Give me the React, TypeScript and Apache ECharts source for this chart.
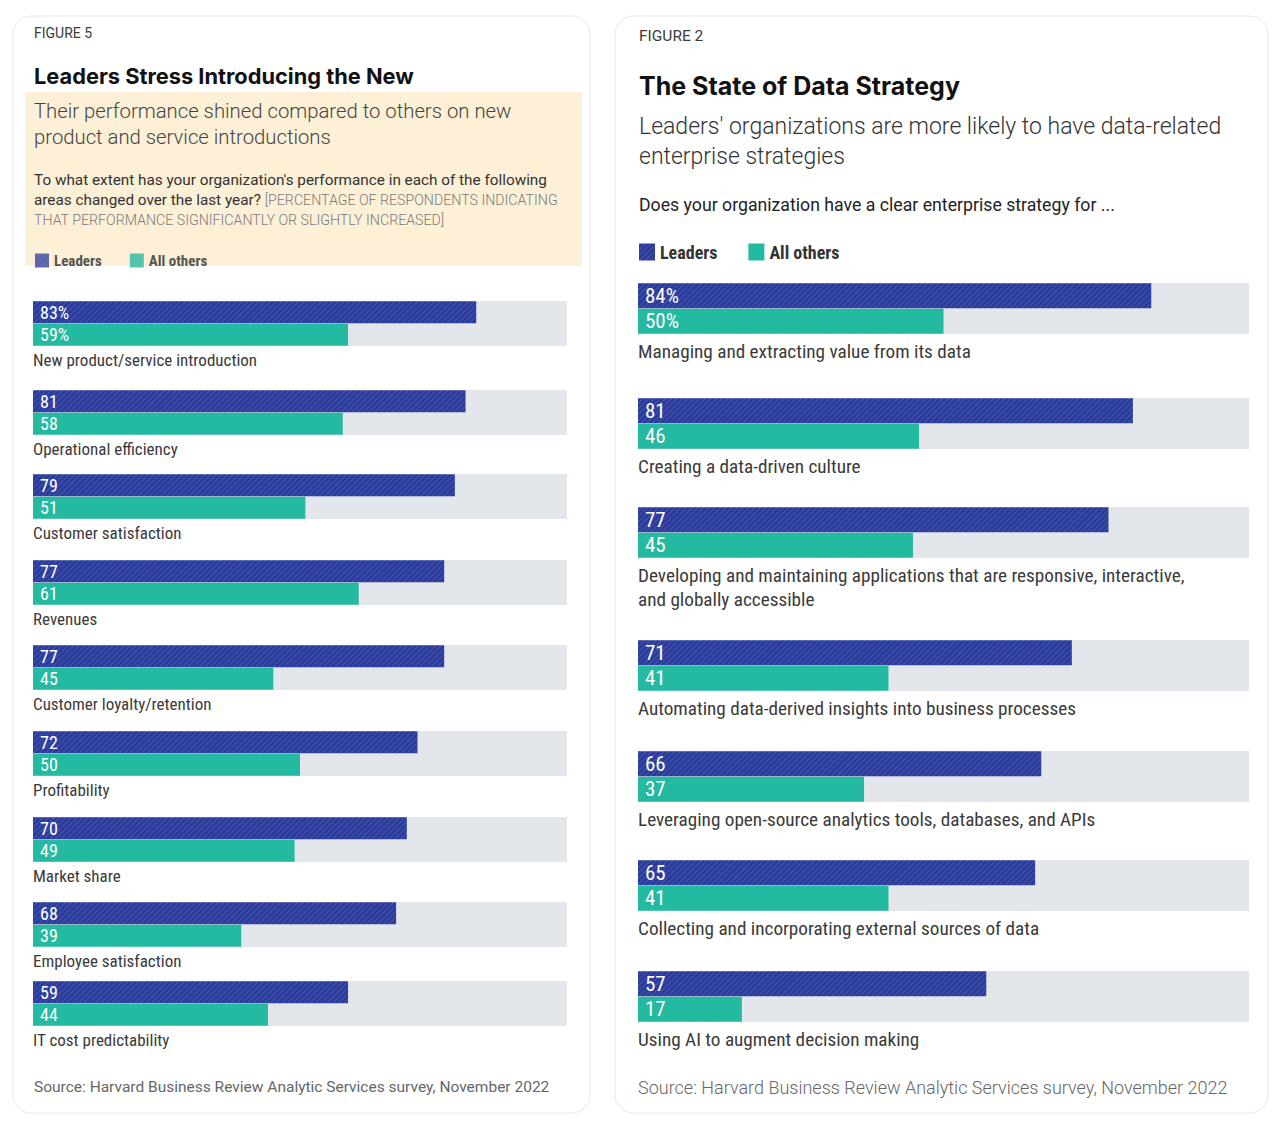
import React, { useEffect, useRef } from 'react';
import * as echarts from 'echarts';

// ---------- DATA ----------
const LEFT_CATEGORIES = [
  'New product/service introduction',
  'Operational efficiency',
  'Customer satisfaction',
  'Revenues',
  'Customer loyalty/retention',
  'Profitability',
  'Market share',
  'Employee satisfaction',
  'IT cost predictability',
];
const LEFT_LEADERS = [83, 81, 79, 77, 77, 72, 70, 68, 59];
const LEFT_OTHERS = [59, 58, 51, 61, 45, 50, 49, 39, 44];

const RIGHT_CATEGORIES = [
  'Managing and extracting value from its data',
  'Creating a data-driven culture',
  'Developing and maintaining applications that are responsive, interactive,\nand globally accessible',
  'Automating data-derived insights into business processes',
  'Leveraging open-source analytics tools, databases, and APIs',
  'Collecting and incorporating external sources of data',
  'Using AI to augment decision making',
];
const RIGHT_LEADERS = [84, 81, 77, 71, 66, 65, 57];
const RIGHT_OTHERS = [50, 46, 45, 41, 37, 41, 17];

const SERIES_NAMES = ['Leaders', 'All others'];
const AXIS_MAX = 100;

// ---------- STYLE / LAYOUT ----------
const NARROW = "'Liberation Sans Narrow', 'Roboto Condensed', 'DejaVu Sans Condensed', 'Arial Narrow', sans-serif";
const SANS = "Roboto, 'Noto Sans', 'Liberation Sans', sans-serif";
const HEAD = "Inter, Roboto, 'Noto Sans', sans-serif";
const BLUE = '#2a3b9c';
const TEAL = '#24b9a1';
const TRACK = '#e3e7ec';

const LEFT_ROW_TOPS = [301, 390, 474, 560, 645, 731, 817, 902, 981];
const RIGHT_ROW_TOPS = [283, 398, 507, 640, 751, 860, 971];

const DECAL = {
  symbol: 'rect',
  symbolSize: 1,
  dashArrayX: [1, 0],
  dashArrayY: [1, 3],
  rotation: -Math.PI / 4,
  color: 'rgba(255,255,255,0.13)',
};

interface PanelCfg {
  cats: string[];
  leaders: number[];
  others: number[];
  tops: number[];
  x0: number;
  width: number;
  barH: number;
  gap: number;
  valueFont: number;
  catFont: number;
  catLine: number;
  catOffset: number;
}

function buildPanel(cfg: PanelCfg, acc: any) {
  cfg.cats.forEach((cat, i) => {
    const gi = acc.grids.length;
    const h = cfg.barH * 2 + cfg.gap;
    acc.grids.push({
      left: cfg.x0,
      top: cfg.tops[i],
      width: cfg.width,
      height: h,
      show: true,
      backgroundColor: TRACK,
      borderWidth: 0,
    });
    acc.xAxes.push({ type: 'value', gridIndex: gi, min: 0, max: AXIS_MAX, show: false });
    acc.yAxes.push({ type: 'category', gridIndex: gi, data: SERIES_NAMES, inverse: true, show: false });
    const label = {
      show: true,
      position: 'insideLeft',
      distance: 7,
      color: '#ffffff',
      fontFamily: NARROW,
      fontSize: cfg.valueFont,
      formatter: i === 0 ? '{c}%' : '{c}',
    };
    acc.series.push({
      type: 'bar',
      name: SERIES_NAMES[0],
      xAxisIndex: gi,
      yAxisIndex: gi,
      data: [cfg.leaders[i], '-'],
      barWidth: cfg.barH,
      barGap: '-100%',
      itemStyle: { color: BLUE, decal: DECAL },
      label,
    });
    acc.series.push({
      type: 'bar',
      name: SERIES_NAMES[1],
      xAxisIndex: gi,
      yAxisIndex: gi,
      data: ['-', cfg.others[i]],
      barWidth: cfg.barH,
      barGap: '-100%',
      itemStyle: { color: TEAL },
      label,
    });
    acc.graphics.push({
      type: 'text',
      x: cfg.x0,
      y: cfg.tops[i] + h + cfg.catOffset,
      z: 10,
      style: {
        text: cat,
        fill: '#3a3a3a',
        fontFamily: NARROW,
        fontSize: cfg.catFont,
        lineHeight: cfg.catLine,
        verticalAlign: 'top',
        align: 'left',
      },
    });
  });
}

function txt(x: number, y: number, text: string, size: number, extra: any = {}) {
  return {
    type: 'text',
    x,
    y,
    z: 10,
    style: {
      text,
      fontFamily: SANS,
      fontSize: size,
      fill: '#333',
      verticalAlign: 'middle',
      align: 'left',
      ...extra,
    },
  };
}

export default function App() {
  const ref = useRef<HTMLDivElement>(null);
  useEffect(() => {
    document.body.style.margin = '0';
    const chart = echarts.init(ref.current!, null, { renderer: 'svg' });
    const acc: any = { grids: [], xAxes: [], yAxes: [], series: [], graphics: [] };

    // cards and header texts
    acc.graphics.push(
      { type: 'rect', z: 0, shape: { x: 13, y: 16, width: 577, height: 1097, r: 18 }, style: { fill: 'none', stroke: '#e9e9e9', lineWidth: 1 } },
      { type: 'rect', z: 0, shape: { x: 615, y: 16, width: 653, height: 1097, r: 18 }, style: { fill: 'none', stroke: '#e9e9e9', lineWidth: 1 } },
      { type: 'rect', z: 0, shape: { x: 25, y: 92, width: 557, height: 174 }, style: { fill: '#fdf0d6' } },
      txt(34, 33, 'FIGURE 5', 14, { fill: '#3a3a3a' }),
      txt(34, 76, 'Leaders Stress Introducing the New', 21.8, { fontFamily: HEAD, fontWeight: 'bold', fill: '#111' }),
      txt(34, 98, 'Their performance shined compared to others on new\nproduct and service introductions', 20.3, {
        verticalAlign: 'top', lineHeight: 26, fill: '#444', fontWeight: 300,
      }),
      {
        type: 'text',
        x: 34,
        y: 170,
        z: 10,
        style: {
          text:
            "To what extent has your organization's performance in each of the following\nareas changed over the last year? {g|[PERCENTAGE OF RESPONDENTS INDICATING}\n{g|THAT PERFORMANCE SIGNIFICANTLY OR SLIGHTLY INCREASED]}",
          fontFamily: SANS,
          fontSize: 15.3,
          lineHeight: 20,
          fill: '#333',
          verticalAlign: 'top',
          rich: { g: { fontFamily: SANS, fontSize: 14.2, fill: '#7a7a7a', lineHeight: 20, fontWeight: 300 } },
        },
      },
      txt(34, 1087, 'Source: Harvard Business Review Analytic Services survey, November 2022', 15.5, { fill: '#666' }),
      txt(639, 36, 'FIGURE 2', 15.5, { fill: '#3a3a3a' }),
      txt(639, 86, 'The State of Data Strategy', 25, { fontFamily: HEAD, fontWeight: 'bold', fill: '#111' }),
      txt(639, 111, "Leaders' organizations are more likely to have data-related\nenterprise strategies", 23, {
        verticalAlign: 'top', lineHeight: 30, fill: '#333', fontWeight: 300,
      }),
      txt(639, 205, 'Does your organization have a clear enterprise strategy for ...', 17.7, { fill: '#222' }),
      txt(638, 1087, 'Source: Harvard Business Review Analytic Services survey, November 2022', 18, { fill: '#666', fontWeight: 300 })
    );

    buildPanel(
      {
        cats: LEFT_CATEGORIES, leaders: LEFT_LEADERS, others: LEFT_OTHERS, tops: LEFT_ROW_TOPS,
        x0: 33, width: 534, barH: 22, gap: 1, valueFont: 18, catFont: 17, catLine: 20, catOffset: 4,
      },
      acc
    );
    buildPanel(
      {
        cats: RIGHT_CATEGORIES, leaders: RIGHT_LEADERS, others: RIGHT_OTHERS, tops: RIGHT_ROW_TOPS,
        x0: 638, width: 611, barH: 25, gap: 1, valueFont: 21, catFont: 19.2, catLine: 24, catOffset: 5,
      },
      acc
    );

    chart.setOption({
      animation: false,
      backgroundColor: '#ffffff',
      legend: [
        {
          left: 35, top: 253, padding: 0, itemWidth: 14, itemHeight: 14, itemGap: 28, icon: 'rect',
          selectedMode: false, data: SERIES_NAMES,
          itemStyle: { opacity: 0.78 },
          textStyle: { fontFamily: NARROW, fontWeight: 'bold', fontSize: 15, color: '#555' },
        },
        {
          left: 639, top: 243, padding: 0, itemWidth: 16, itemHeight: 17, itemGap: 31, icon: 'rect',
          selectedMode: false, data: SERIES_NAMES,
          textStyle: { fontFamily: NARROW, fontWeight: 'bold', fontSize: 18, color: '#333' },
        },
      ],
      grid: acc.grids,
      xAxis: acc.xAxes,
      yAxis: acc.yAxes,
      series: acc.series,
      graphic: { elements: acc.graphics },
    });
    return () => chart.dispose();
  }, []);
  return <div ref={ref} style={{ position: 'absolute', left: 0, top: 0, width: 1280, height: 1127 }} />;
}
